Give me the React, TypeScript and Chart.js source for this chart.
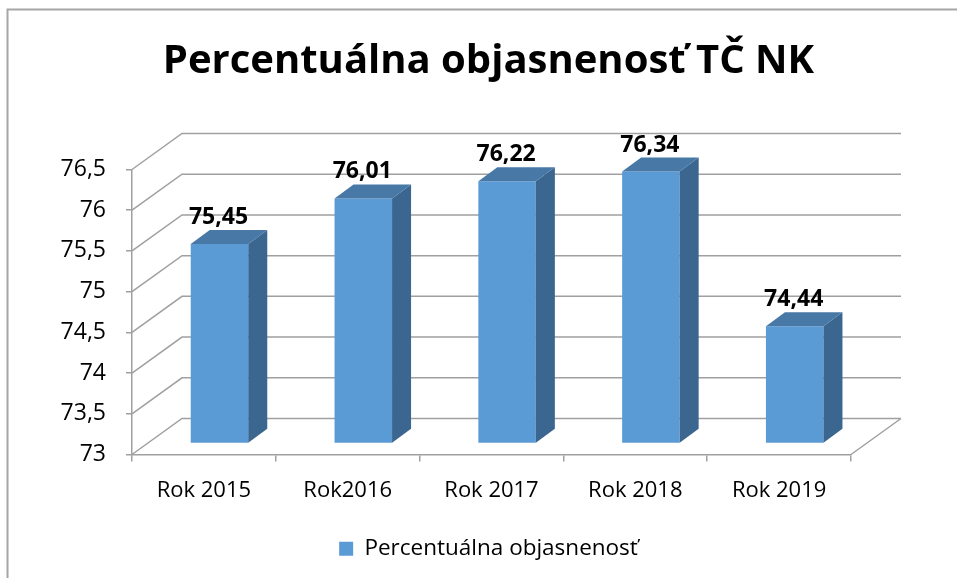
import React, { useEffect, useRef } from 'react';
import { Chart, registerables } from 'chart.js';

Chart.register(...registerables);

const categories = ['Rok 2015', 'Rok2016', 'Rok 2017', 'Rok 2018', 'Rok 2019'];
const values = [75.45, 76.01, 76.22, 76.34, 74.44];
const seriesName = 'Percentuálna objasnenosť';
const chartTitle = 'Percentuálna objasnenosť TČ NK';
const yMin = 73;
const yMax = 76.5;
const yStep = 0.5;

const WALL = { dx: 50, dy: -36 };
const BAR_SHIFT = { dx: 15.6, dy: -11 };
const BAR_DEPTH = { dx: 19, dy: -14 };
const GRID = '#a0a0a0';
const FRONT = '#5b9bd5';
const SIDE = '#3b6690';
const TOP = '#4778a6';
const FONT = "'Open Sans', sans-serif";

const fmt = (v: number) => String(v).replace('.', ',');

const threeD = {
  id: 'threeD',
  beforeDraw(chart: any) {
    const ctx = chart.ctx;
    ctx.save();
    ctx.fillStyle = '#fff';
    ctx.fillRect(0, 0, chart.width, chart.height);
    ctx.strokeStyle = '#a6a6a6';
    ctx.lineWidth = 2;
    ctx.strokeRect(7.5, 9.5, chart.width + 20, chart.height + 20);
    ctx.restore();
  },
  beforeDatasetsDraw(chart: any) {
    const { ctx, chartArea: a, scales } = chart;
    const y = scales.y;
    ctx.save();
    ctx.strokeStyle = GRID;
    ctx.lineWidth = 1.5;
    ctx.beginPath();
    y.ticks.forEach((t: any) => {
      const py = y.getPixelForValue(t.value);
      ctx.moveTo(a.left, py);
      ctx.lineTo(a.left + WALL.dx, py + WALL.dy);
      ctx.lineTo(a.right + WALL.dx, py + WALL.dy);
    });
    ctx.moveTo(a.right, a.bottom);
    ctx.lineTo(a.right + WALL.dx, a.bottom + WALL.dy);
    ctx.stroke();
    ctx.restore();
  },
  beforeDatasetDraw(chart: any) {
    chart.ctx.save();
    chart.ctx.translate(BAR_SHIFT.dx, BAR_SHIFT.dy);
  },
  afterDatasetDraw(chart: any, args: any) {
    const ctx = chart.ctx;
    args.meta.data.forEach((el: any) => {
      const { x, y, base, width } = el.getProps(['x', 'y', 'base', 'width'], true);
      const l = x - width / 2;
      const r = x + width / 2;
      ctx.fillStyle = SIDE;
      ctx.beginPath();
      ctx.moveTo(r, y);
      ctx.lineTo(r + BAR_DEPTH.dx, y + BAR_DEPTH.dy);
      ctx.lineTo(r + BAR_DEPTH.dx, base + BAR_DEPTH.dy);
      ctx.lineTo(r, base);
      ctx.closePath();
      ctx.fill();
      ctx.fillStyle = TOP;
      ctx.beginPath();
      ctx.moveTo(l, y);
      ctx.lineTo(l + BAR_DEPTH.dx, y + BAR_DEPTH.dy);
      ctx.lineTo(r + BAR_DEPTH.dx, y + BAR_DEPTH.dy);
      ctx.lineTo(r, y);
      ctx.closePath();
      ctx.fill();
    });
    ctx.restore();
  },
  afterDatasetsDraw(chart: any) {
    const ctx = chart.ctx;
    const meta = chart.getDatasetMeta(0);
    ctx.save();
    ctx.fillStyle = '#000';
    ctx.font = `bold 23px ${FONT}`;
    ctx.textAlign = 'center';
    ctx.textBaseline = 'alphabetic';
    meta.data.forEach((el: any, i: number) => {
      const { x, y } = el.getProps(['x', 'y'], true);
      ctx.fillText(fmt(values[i]), x + BAR_SHIFT.dx - 1, y + BAR_SHIFT.dy + BAR_DEPTH.dy - 6);
    });
    ctx.restore();
  },
};

export default function App() {
  const ref = useRef<HTMLCanvasElement>(null);
  useEffect(() => {
    if (!ref.current) return;
    Chart.defaults.font.family = FONT;
    Chart.defaults.color = '#000';
    const chart = new Chart(ref.current, {
      type: 'bar',
      data: {
        labels: categories,
        datasets: [
          {
            label: seriesName,
            data: values,
            base: yMin,
            backgroundColor: FRONT,
            borderWidth: 0,
            categoryPercentage: 1,
            barPercentage: 0.4,
          } as any,
        ],
      },
      options: {
        animation: false,
        responsive: false,
        devicePixelRatio: 1,
        layout: { padding: { left: 20, right: 0, top: 0, bottom: 8 } },
        plugins: {
          title: {
            display: true,
            text: chartTitle,
            color: '#000',
            font: { size: 40, weight: 'bold', family: FONT },
            padding: { top: 38, bottom: 83.5 },
          },
          legend: {
            position: 'bottom',
            labels: {
              boxWidth: 14,
              boxHeight: 14,
              color: '#000',
              font: { size: 22.5, family: FONT },
              padding: 9,
            },
          },
          tooltip: { enabled: false },
        },
        scales: {
          x: {
            grid: {
              offset: true,
              drawOnChartArea: false,
              drawTicks: true,
              tickLength: 7,
              color: GRID,
              lineWidth: 1.5,
            },
            border: { display: true, color: GRID, width: 1.5 },
            ticks: { font: { size: 22, family: FONT }, color: '#000', padding: 16, maxRotation: 0 },
            afterFit: (s: any) => {
              s.height = 74;
            },
          },
          y: {
            min: yMin,
            max: yMax,
            ticks: {
              stepSize: yStep,
              callback: (v: any) => fmt(Number(v)),
              font: { size: 23, family: FONT },
              color: '#000',
              padding: 20,
            },
            grid: { drawOnChartArea: false, drawTicks: true, tickLength: 6, color: GRID, lineWidth: 1.5 },
            border: { display: true, color: GRID, width: 1.5 },
            afterFit: (s: any) => {
              s.width = 112;
            },
          },
          y2: {
            type: 'linear',
            position: 'right',
            display: true,
            grid: { display: false },
            border: { display: false },
            ticks: { display: false },
            afterFit: (s: any) => {
              s.width = 106;
            },
          },
        },
      } as any,
      plugins: [threeD],
    });
    return () => chart.destroy();
  }, []);
  return (
    <div style={{ position: 'absolute', left: 0, top: 0, width: 957, height: 578, background: '#fff' }}>
      <canvas ref={ref} width={957} height={578} style={{ display: 'block' }} />
    </div>
  );
}
